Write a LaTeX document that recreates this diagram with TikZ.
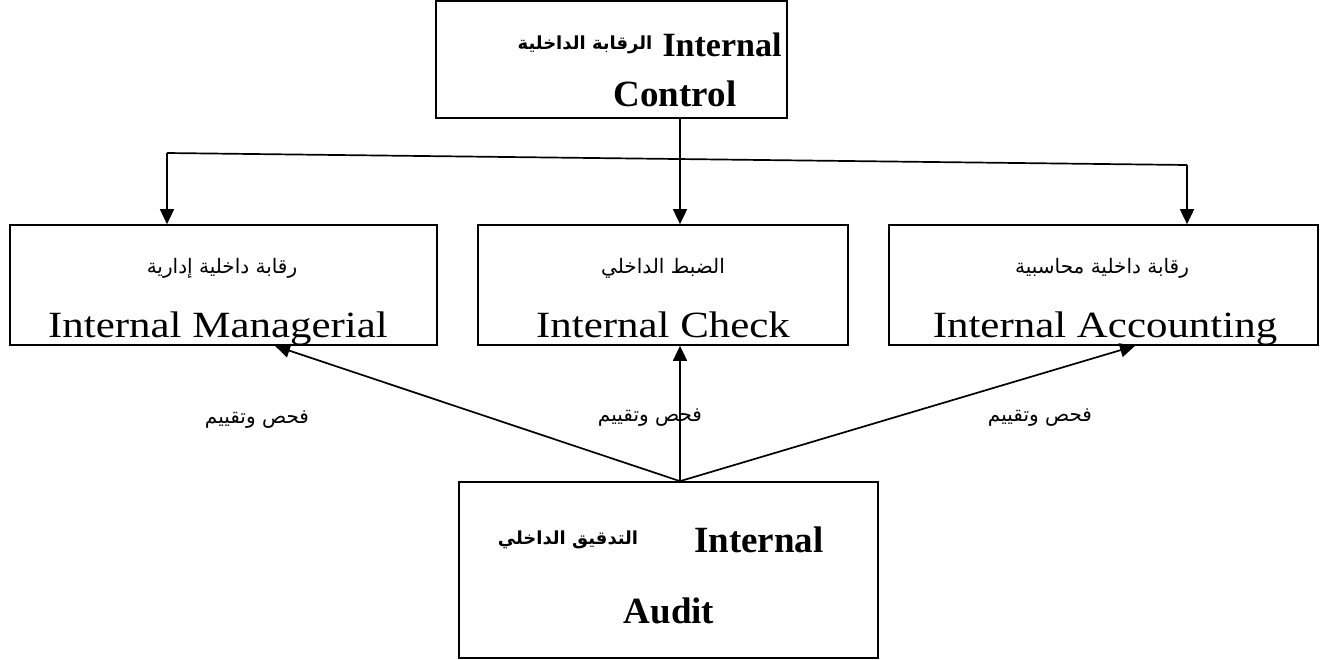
\documentclass[tikz,border=0pt]{standalone}
\usepackage{fontspec}
\setmainfont{Liberation Serif}
\newfontfamily\enwide[FakeStretch=1.16]{Liberation Serif}
\newfontfamily\arabicfont[Script=Arabic]{DejaVu Sans}
\TeXXeTstate=1
\usetikzlibrary{arrows.meta}
\begin{document}
\begin{tikzpicture}[x=1pt,y=-1pt,
  box/.style={draw,line width=1.7pt,inner sep=0pt,minimum width=#1},
  txt/.style={inner sep=0pt,anchor=center},
  en/.style={inner sep=0pt,anchor=base,font=\fontsize{37}{41}\enwide},
  enb/.style={inner sep=0pt,anchor=base,font=\fontsize{37}{40}\selectfont\bfseries},
  ar/.style={txt,font=\fontsize{20}{24}\arabicfont},
  arb/.style={txt,font=\fontsize{18}{22}\arabicfont\bfseries},
  conn/.style={line width=1.7pt},
  arr/.style={conn,-{Triangle[length=15pt,width=14pt]}}]
\useasboundingbox (0,0) rectangle (1324,659);
% boxes
\node[box=351pt,minimum height=117pt] (T) at (611.5,59.5) {};
\node[box=427pt,minimum height=120pt] (L) at (223.5,285) {};
\node[box=370pt,minimum height=120pt] (M) at (663,285) {};
\node[box=429pt,minimum height=120pt] (R) at (1103.5,285) {};
\node[box=419pt,minimum height=176pt] (B) at (668.5,570) {};
% texts
\node[arb] (t1a) at (585,45) {\beginR الرقابة الداخلية\endR};
\node[enb,font=\fontsize{34}{38}\selectfont\bfseries] (t1b) at (722,56) {Internal};
\node[enb] (t2) at (675,106) {Control};
\node[ar] (l1) at (222,268) {\beginR رقابة داخلية إدارية\endR};
\node[en] (l2) at (218,337) {Internal Managerial};
\node[ar] (m1) at (663,268) {\beginR الضبط الداخلي\endR};
\node[en] (m2) at (663,337) {Internal Check};
\node[ar] (r1) at (1102,268) {\beginR رقابة داخلية محاسبية\endR};
\node[en] (r2) at (1105,337) {Internal Accounting};
\node[arb] (b1a) at (568,540) {\beginR التدقيق الداخلي\endR};
\node[enb] (b1b) at (759,552) {Internal};
\node[enb] (b2) at (669,623) {Audit};
\node[ar] (lab1) at (257,420) {\beginR فحص وتقييم\endR};
\node[ar] (lab2) at (650,418) {\beginR فحص وتقييم\endR};
\node[ar] (lab3) at (1040,418) {\beginR فحص وتقييم\endR};
% connectors
\coordinate (hl) at (167,153);
\coordinate (hr) at (1187,165);
\coordinate (tv) at (680,0);
\coordinate (la) at (275,0);
\coordinate (ra) at (1135,0);
\draw[conn] (hl) -- (hr);
\draw[arr] (tv |- T.south) -- (tv |- M.north);
\draw[arr] (hl) -- (hl |- L.north);
\draw[arr] (hr) -- (hr |- R.north);
\coordinate (apex) at (tv |- B.north);
\draw[arr] (apex) -- (la |- L.south);
\draw[arr] (apex) -- (tv |- M.south);
\draw[arr] (apex) -- (ra |- R.south);
\end{tikzpicture}
\end{document}
